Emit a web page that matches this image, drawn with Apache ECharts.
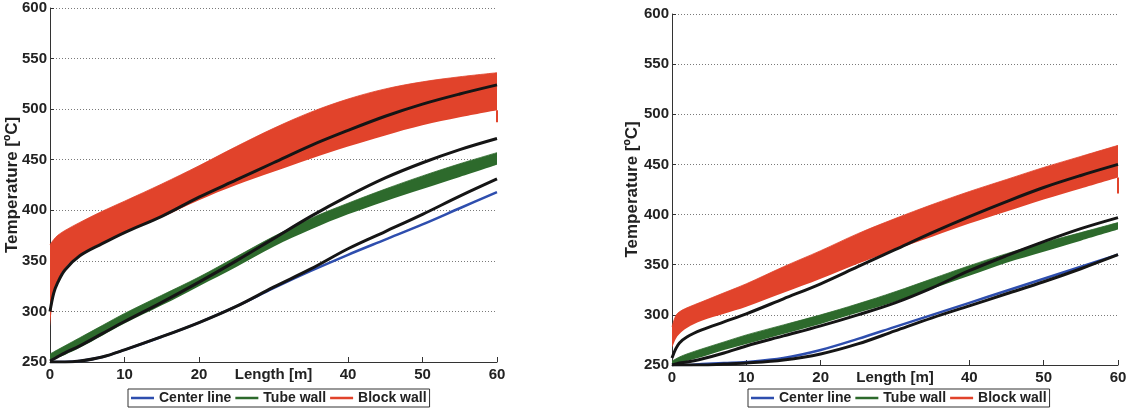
<!DOCTYPE html>
<html>
<head>
<meta charset="utf-8">
<script src="https://cdn.jsdelivr.net/npm/echarts@6/dist/echarts.min.js"></script>
<style>
  html, body { margin: 0; padding: 0; background: #fff; }
  #chart { width: 1126px; height: 414px; }
</style>
</head>
<body>
<div id="chart"></div>
<script>
// Position along the tube [m], shared by every curve of both panels
const lengthM = [0, 0.5, 1, 2, 4, 7, 10, 15, 20, 25, 30, 35, 40, 45, 50, 55, 60];
const xTickValues = [0, 10, 20, 40, 50, 60];
const seriesNames = ['Center line', 'Tube wall', 'Block wall'];

// ---- Left panel temperatures [ºC] ----
const blockUpperA  = [366, 371, 375, 380, 388, 399, 409, 426, 444, 463, 481, 497, 510, 520, 527, 532, 536];
const blockLowerA  = [284, 318, 330, 343, 356, 368, 378, 393, 410, 425, 438, 451, 463, 474, 484, 492, 499];
const blockDropA   = 487;
const blockModelA  = [300, 318, 328, 341, 355, 367, 378, 394, 413, 430, 447, 464, 479, 493, 505, 515, 524];
const tubeUpperA   = [258, 260, 262, 266, 274, 286, 298, 316, 334, 354, 374, 392, 407, 421, 434, 446, 457];
const tubeLowerA   = [251, 252, 254, 257, 264, 276, 288, 306, 325, 344, 364, 381, 396, 409, 421, 433, 445];
const tubeModelA   = [251, 253, 255, 259, 266, 278, 290, 309, 329, 350, 372, 394, 414, 432, 447, 460, 471];
const centerA      = [250, 250, 250, 250, 251, 255, 262, 275, 289, 305, 323, 340, 356, 371, 386, 402, 418];
const centerModelA = [250, 250, 250, 250, 251, 255, 262, 275, 289, 305, 324, 342, 362, 379, 396, 414, 431];

// ---- Right panel temperatures [ºC] ----
const blockUpperB  = [288, 299, 303, 307, 313, 322, 331, 348, 364, 381, 396, 410, 423, 435, 447, 458, 469];
const blockLowerB  = [267, 276, 281, 287, 294, 301, 308, 322, 336, 351, 365, 378, 391, 403, 415, 426, 437];
const blockDropB   = 421;
const blockModelB  = [257, 266, 272, 278, 285, 293, 301, 316, 331, 348, 365, 382, 398, 413, 427, 439, 450];
const tubeUpperB   = [254, 256, 258, 261, 266, 273, 280, 290, 300, 311, 323, 336, 349, 361, 372, 382, 392];
const tubeLowerB   = [250, 251, 252, 254, 258, 265, 271, 281, 291, 302, 313, 326, 339, 352, 363, 374, 385];
const tubeModelB   = [250, 251, 252, 253, 256, 262, 269, 279, 289, 300, 312, 327, 344, 359, 373, 386, 397];
const centerB      = [250, 250, 250, 250, 251, 252, 253, 257, 265, 276, 288, 300, 312, 324, 336, 348, 360];
const centerModelB = [250, 250, 250, 250, 250, 251, 252, 255, 261, 271, 284, 297, 309, 321, 333, 346, 360];

const RED = '#e1432b', GREEN = '#2d6a2c', BLUE = '#2e4eae', BLACK = '#151515';
const FONT = '"Liberation Sans", Arial, Helvetica, sans-serif';

// points are stored as [temperature, length] so the stacked dimension is the temperature
const pts = (temps) => lengthM.map((x, i) => [temps[i], x]);
const diff = (hi, lo) => hi.map((v, i) => v - lo[i]);
const ENC = { x: 1, y: 0 };
const SMOOTH = 0.35;

function baseLine(k, stack, lower) {
  return { type: 'line', xAxisIndex: k, yAxisIndex: k, stack: stack + k, encode: ENC,
    data: pts(lower), symbol: 'none', silent: true, smooth: SMOOTH,
    lineStyle: { opacity: 0 }, z: 2 };
}
function band(k, name, stack, lower, upper, color) {
  return { name, type: 'line', xAxisIndex: k, yAxisIndex: k, stack: stack + k, encode: ENC,
    data: pts(diff(upper, lower)), symbol: 'none', smooth: SMOOTH,
    itemStyle: { color }, lineStyle: { width: 0.8, color },
    areaStyle: { color, opacity: 1 }, z: 2 };
}
function curve(k, name, temps, color, width) {
  return { name, type: 'line', xAxisIndex: k, yAxisIndex: k, encode: ENC,
    data: pts(temps), symbol: 'none', smooth: SMOOTH,
    itemStyle: { color }, lineStyle: { color, width }, z: 4 };
}
function dropLine(k, from, to) {
  return { type: 'line', xAxisIndex: k, yAxisIndex: k, encode: ENC, silent: true,
    data: [[from, 60], [to, 60]], symbol: 'none', lineStyle: { color: RED, width: 2 }, z: 3 };
}

function panelSeries(k, p) {
  return [
    baseLine(k, 'block', p.blockLower),
    band(k, 'Block wall', 'block', p.blockLower, p.blockUpper, RED),
    dropLine(k, p.blockLower[p.blockLower.length - 1], p.blockDrop),
    baseLine(k, 'tube', p.tubeLower),
    band(k, 'Tube wall', 'tube', p.tubeLower, p.tubeUpper, GREEN),
    curve(k, 'Center line', p.center, BLUE, 2.5),
    curve(k, 'Block wall model', p.blockModel, BLACK, 3),
    curve(k, 'Tube wall model', p.tubeModel, BLACK, 3),
    curve(k, 'Center line model', p.centerModel, BLACK, 3)
  ];
}

const panels = [
  { blockUpper: blockUpperA, blockLower: blockLowerA, blockDrop: blockDropA, blockModel: blockModelA,
    tubeUpper: tubeUpperA, tubeLower: tubeLowerA, tubeModel: tubeModelA,
    center: centerA, centerModel: centerModelA },
  { blockUpper: blockUpperB, blockLower: blockLowerB, blockDrop: blockDropB, blockModel: blockModelB,
    tubeUpper: tubeUpperB, tubeLower: tubeLowerB, tubeModel: tubeModelB,
    center: centerB, centerModel: centerModelB }
];

const labelStyle = { fontFamily: FONT, fontSize: 15, fontWeight: 'bold', color: '#222' };

function xAxis(k) {
  return { type: 'value', gridIndex: k, min: 0, max: 60, interval: 10,
    axisLine: { onZero: false, lineStyle: { color: '#333', width: 1 } },
    axisTick: { inside: true, length: 5, customValues: xTickValues, lineStyle: { color: '#333' } },
    axisLabel: Object.assign({ margin: 5, customValues: xTickValues, hideOverlap: false }, labelStyle),
    splitLine: { show: false },
    name: 'Length [m]', nameLocation: 'middle', nameGap: 5, nameMoveOverlap: false,
    nameTextStyle: Object.assign({}, labelStyle, { fontSize: 15, verticalAlign: 'top' }) };
}
function yAxis(k, gap) {
  return { type: 'value', gridIndex: k, min: 250, max: 600, interval: 50,
    axisLine: { show: true, onZero: false, lineStyle: { color: '#333', width: 1 } },
    axisTick: { show: true, inside: true, length: 4, lineStyle: { color: '#333' } },
    axisLabel: Object.assign({ margin: 3 }, labelStyle),
    splitLine: { show: true, lineStyle: { type: [1, 2], color: '#7a7a7a', width: 1 } },
    name: 'Temperature [ºC]', nameLocation: 'middle', nameGap: gap, nameRotate: 90,
    nameMoveOverlap: false,
    nameTextStyle: Object.assign({}, labelStyle, { fontSize: 17 }) };
}
function legend(left) {
  return { left, top: 389, orient: 'horizontal', data: seriesNames,
    icon: 'rect', itemWidth: 23, itemHeight: 2.5, itemGap: 4,
    padding: [2, 3, 2, 3], borderColor: '#333', borderWidth: 1,
    textStyle: { fontFamily: FONT, fontSize: 14, fontWeight: 'bold', color: '#222' },
    selectedMode: false };
}

const chart = echarts.init(document.getElementById('chart'), null, { renderer: 'canvas' });
chart.setOption({
  animation: false,
  backgroundColor: '#fff',
  grid: [
    { left: 50, top: 8, width: 447, height: 354, outerBoundsMode: 'none' },
    { left: 672, top: 14, width: 446, height: 351, outerBoundsMode: 'none' }
  ],
  xAxis: [xAxis(0), xAxis(1)],
  yAxis: [yAxis(0, 29), yAxis(1, 31)],
  legend: [legend(128), legend(748)],
  series: panelSeries(0, panels[0]).concat(panelSeries(1, panels[1]))
});
</script>
</body>
</html>
